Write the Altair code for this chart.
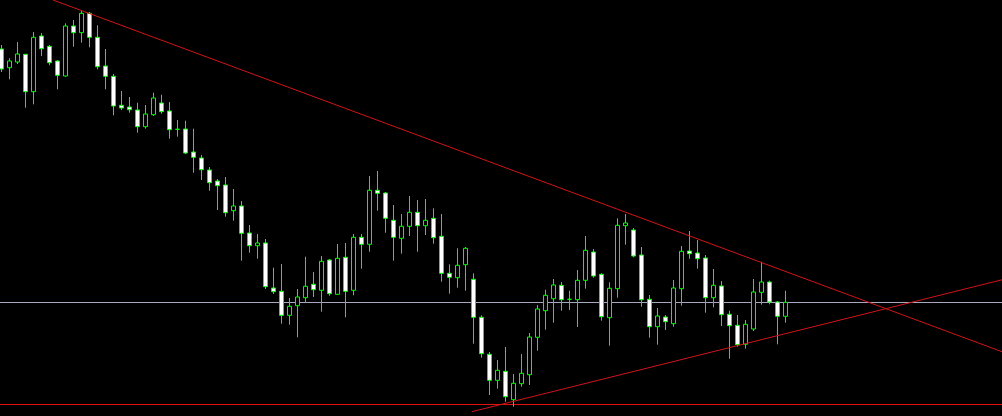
import altair as alt
import pandas as pd

opens = [49, 67.7, 62, 54.3, 91.7, 36, 46.3, 61, 76, 26,
         32.7, 13.3, 37.3, 66, 76.3, 105.3, 107, 110, 126.7, 114.7,
         103, 111, 129.3, 129, 152, 158, 170, 181, 185, 210.7,
         206, 233, 245.7, 243, 288, 291.3, 315.3, 305.7, 297.7, 284.3,
         290.3, 260, 294.3, 257.3, 290.3, 237.3, 244.3, 190.3, 193, 220.3,
         238.3, 226.3, 212.3, 225.7, 218.3, 236.3, 273.3, 277.7, 264.7, 279.3,
         317.3, 354.3, 380.3, 371.3, 399.7, 383.7, 374.7, 337.3, 310.7, 298.7,
         285.3, 299.3, 299.7, 280.3, 252, 274.3, 317.7, 288.7, 225.7, 230,
         255, 299.3, 326.7, 317, 323.7, 288.7, 251, 253, 258, 297.7,
         286, 314.3, 325.3, 344.3, 329, 292.3, 282, 302, 316.3]
highs = [45, 58.3, 42, 54, 32, 33, 45, 60, 23.3, 20,
         10, 12, 25.3, 49, 74, 91, 97, 102.7, 105, 92.7,
         94.7, 102, 120, 120.7, 128.7, 155, 167, 179, 177, 189,
         201, 225, 234, 239, 267.7, 264, 298, 289, 256.7, 272,
         256, 259, 244, 243, 234, 234, 176, 171, 192, 205,
         214, 196, 200, 199, 208.3, 214, 264.3, 248.3, 247, 273.3,
         315.3, 352, 360, 347, 374, 354, 333, 305, 289.7, 279,
         282, 290.7, 270, 236, 249, 273.3, 282.3, 218.3, 214, 228,
         247, 295, 308, 315, 280, 246, 231, 240, 255, 269,
         281, 310.7, 315, 320, 279, 261.7, 280.7, 301, 290.7]
lows = [72, 79.3, 64, 107.7, 104.3, 56, 65.3, 89.3, 76.7, 46.7,
        42.7, 47.3, 69.3, 89.3, 115.3, 110, 112.7, 132.7, 128.7, 116,
        113.7, 138.7, 136.7, 154, 172.7, 180, 190.7, 210, 216.7, 220.7,
        260.7, 252.7, 258.7, 289, 294, 323.7, 324.7, 337.3, 302.7, 297,
        311.7, 295.7, 295, 317.3, 295.3, 268.7, 251.7, 210.7, 232.7, 260.7,
        253.7, 236, 251.7, 235, 243.7, 281.7, 293.7, 287.7, 290.7, 343.7,
        357.7, 395, 388.7, 401.7, 406.7, 386.7, 385, 350.7, 329.7, 322.7,
        310.7, 310, 327, 288.7, 277.7, 320.7, 345.7, 297.7, 244.7, 257.3,
        306.7, 337.7, 344.7, 330, 326.7, 305.7, 258.7, 268.7, 312.7, 307.3,
        326, 358.7, 346.7, 348.7, 331, 304.7, 304.3, 344.3, 322.7]
closes = [69, 61, 54, 91.7, 37.3, 48.7, 62.7, 75.3, 26, 32.7,
          13.3, 37.3, 66.7, 76.3, 106, 108, 109.7, 126.7, 114, 98,
          111.7, 129.7, 129.3, 153, 157.3, 169.7, 182.7, 185.7, 212.7, 206,
          233.3, 245.7, 243, 286.7, 291.7, 315.3, 306.3, 297, 286.3, 289.7,
          261.3, 293.7, 258.3, 291.3, 237.3, 244.3, 190.3, 193.3, 218.3, 237.3,
          226.3, 212.3, 225.7, 220.3, 237.7, 273.3, 277.3, 265.3, 248.3, 317.3,
          353.7, 380.3, 370.3, 396.7, 383.3, 373.3, 337, 309, 295.3, 285,
          299.7, 299.3, 280.3, 250.3, 276, 316.7, 288.3, 225.3, 223, 256,
          299.7, 326.7, 316, 321.7, 288, 251.3, 253.7, 258.7, 297.7, 285.3,
          314.7, 325.7, 344.7, 324.3, 292, 282, 302, 316.3, 302.3]

# Drawn objects (bar index, value)
upper_trend_x = [6.44, 125.06]
upper_trend_y = [0, 351.7]
lower_trend_x = [58.8, 125.06]
lower_trend_y = [411.7, 279.8]
red_level = 404.5
gray_level = 302.5

GREEN = "#00ff00"
RED = "#e01010"
GRAY = "#a8a8c0"

n = len(opens)
df = pd.DataFrame({
    "i": list(range(n)),
    "open": opens, "high": highs, "low": lows, "close": closes,
})
df["top"] = df[["open", "close"]].min(axis=1)
df["bot"] = df[["open", "close"]].max(axis=1)
df["bear"] = df["close"] > df["open"]
df["x0"] = df["i"] - 0.25
df["x1"] = df["i"] + 0.25

xs = alt.Scale(domain=[-0.1875, 125.0625], nice=False, zero=False)
ys = alt.Scale(domain=[416, 0], nice=False, zero=False)
noax = None

base = alt.Chart(df)

wicks = base.mark_rule(color=GREEN, strokeWidth=1).encode(
    x=alt.X("i:Q", scale=xs, axis=noax),
    y=alt.Y("high:Q", scale=ys, axis=noax),
    y2="low:Q",
)

bodies = base.mark_rect(stroke=GREEN, strokeWidth=1).encode(
    x=alt.X("x0:Q", scale=xs, axis=noax),
    x2="x1:Q",
    y=alt.Y("top:Q", scale=ys, axis=noax),
    y2="bot:Q",
    fill=alt.condition("datum.bear", alt.value("#ffffff"), alt.value("#000000")),
)

levels = pd.DataFrame({"lvl": [red_level, gray_level], "c": [RED, GRAY]})
hlines = alt.Chart(levels).mark_rule(strokeWidth=1).encode(
    y=alt.Y("lvl:Q", scale=ys, axis=noax),
    color=alt.Color("c:N", scale=None, legend=None),
)

trend_df = pd.DataFrame({
    "x": upper_trend_x + lower_trend_x,
    "y": upper_trend_y + lower_trend_y,
    "name": ["upper", "upper", "lower", "lower"],
})
trends = alt.Chart(trend_df).mark_line(color="#d01515", strokeWidth=1, clip=True).encode(
    x=alt.X("x:Q", scale=xs, axis=noax),
    y=alt.Y("y:Q", scale=ys, axis=noax),
    detail="name:N",
)

chart = alt.layer(hlines, wicks, bodies, trends).properties(
    width=1002, height=416, padding=0, background="#000000",
    autosize=alt.AutoSizeParams(type="none"),
).configure_view(stroke=None)

chart.save("out.html", embed_options={"renderer": "svg", "actions": False})
